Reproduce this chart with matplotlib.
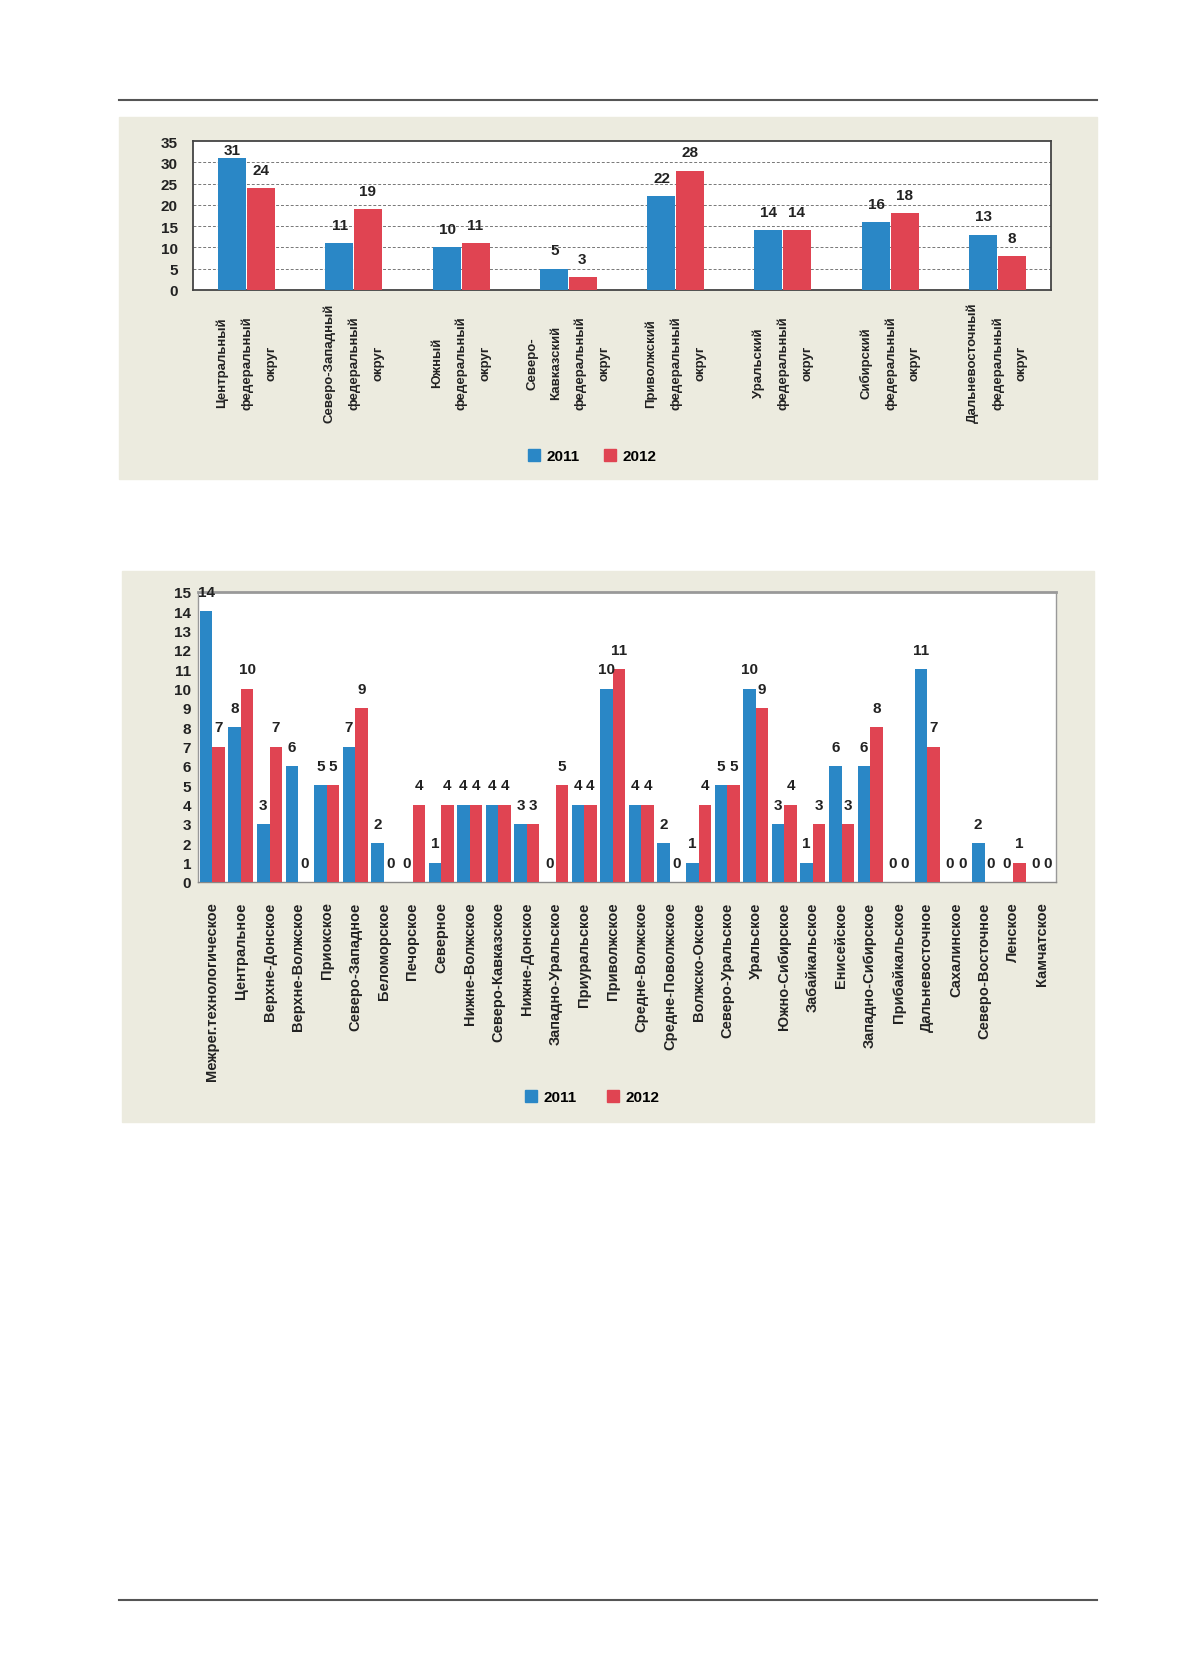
import numpy as np
import matplotlib
matplotlib.use('Agg')
import matplotlib.pyplot as plt
from matplotlib.patches import Patch, Rectangle
from matplotlib.lines import Line2D

plt.rcParams['font.family'] = ['Liberation Sans', 'DejaVu Sans']
plt.rcParams['font.weight'] = 'bold'

# Верхний график: федеральные округа
okruga = ['Центральный\nфедеральный\nокруг', 'Северо-Западный\nфедеральный\nокруг',
          'Южный\nфедеральный\nокруг', 'Северо-\nКавказский\nфедеральный\nокруг',
          'Приволжский\nфедеральный\nокруг', 'Уральский\nфедеральный\nокруг',
          'Сибирский\nфедеральный\nокруг', 'Дальневосточный\nфедеральный\nокруг']
ok_2011 = [31, 11, 10, 5, 22, 14, 16, 13]
ok_2012 = [24, 19, 11, 3, 28, 14, 18, 8]

# Нижний график: управления
upr = ['Межрег.технологическое', 'Центральное', 'Верхне-Донское', 'Верхне-Волжское',
       'Приокское', 'Северо-Западное', 'Беломорское', 'Печорское', 'Северное',
       'Нижне-Волжское', 'Северо-Кавказское', 'Нижне-Донское', 'Западно-Уральское',
       'Приуральское', 'Приволжское', 'Средне-Волжское', 'Средне-Поволжское',
       'Волжско-Окское', 'Северо-Уральское', 'Уральское', 'Южно-Сибирское',
       'Забайкальское', 'Енисейское', 'Западно-Сибирское', 'Прибайкальское',
       'Дальневосточное', 'Сахалинское', 'Северо-Восточное', 'Ленское', 'Камчатское']
upr_2011 = [14, 8, 3, 6, 5, 7, 2, 0, 1, 4, 4, 3, 0, 4, 10, 4, 2, 1, 5, 10, 3, 1, 6, 6, 0, 11, 0, 2, 0, 0]
upr_2012 = [7, 10, 7, 0, 5, 9, 0, 4, 4, 4, 4, 3, 5, 4, 11, 4, 0, 4, 5, 9, 4, 3, 3, 8, 0, 7, 0, 0, 1, 0]

blue = '#2a87c6'
red = '#e04452'
beige = '#ecebdf'
txt = '#222222'

W, H = 1179, 1681
fig = plt.figure(figsize=(W/100, H/100), dpi=100)

def fx(px):
    return px / W

def fy(py):
    return 1 - py / H

# фоновые панели и линии страницы
fig.patches.append(Rectangle((fx(119), fy(480)), fx(1097-119), (480-118)/H,
                             transform=fig.transFigure, color=beige, zorder=-5))
fig.patches.append(Rectangle((fx(122), fy(1123)), fx(1094-122), (1123-572)/H,
                             transform=fig.transFigure, color=beige, zorder=-5))
fig.lines.append(Line2D([fx(119), fx(1097)], [fy(101), fy(101)], transform=fig.transFigure,
                        color='#555555', lw=1.5))
fig.lines.append(Line2D([fx(119), fx(1097)], [fy(1601), fy(1601)], transform=fig.transFigure,
                        color='#555555', lw=1.5))

# ---- верхний график
ax = fig.add_axes([fx(193), fy(291), fx(1051-193), (291-142)/H])
x = np.arange(len(okruga))
w = 0.26
ax.bar(x - w/2 - 0.005, ok_2011, w, color=blue, zorder=3)
ax.bar(x + w/2 + 0.005, ok_2012, w, color=red, zorder=3)
for i in range(len(okruga)):
    ax.text(x[i] - w/2, min(ok_2011[i] + 4.3, 32.8), str(ok_2011[i]), ha='center', va='center',
            fontsize=11, color=txt)
    ax.text(x[i] + w/2, min(ok_2012[i] + 4.3, 32.8), str(ok_2012[i]), ha='center', va='center',
            fontsize=11, color=txt)
ax.set_xlim(-0.5, len(okruga) - 0.5)
ax.set_ylim(0, 35)
ax.set_yticks(range(0, 36, 5))
ax.set_xticks(x)
ax.set_xticklabels(okruga, rotation=90, va='center', ha='center', multialignment='center',
                   linespacing=2.3, fontsize=9.5, color=txt)
ax.tick_params(axis='x', length=0, pad=52)
ax.tick_params(axis='y', length=0, pad=11, labelsize=11, labelcolor=txt)
for v in range(5, 35, 5):
    ax.axhline(v, color='#777777', lw=0.7, ls=(0, (3, 2)), zorder=1)
for s in ax.spines.values():
    s.set_color('#444444')
    s.set_linewidth(1.3)
ax.set_facecolor('white')

fig.legend(handles=[Patch(color=blue, label='2011'), Patch(color=red, label='2012')],
           loc='center', bbox_to_anchor=(fx(592), fy(457)), ncol=2, frameon=False,
           handlelength=0.8, handleheight=0.9, handletextpad=0.4, columnspacing=1.6,
           prop={'size': 11, 'weight': 'bold'})

# ---- нижний график
ax2 = fig.add_axes([fx(198), fy(883), fx(1056-198), (883-593)/H])
x2 = np.arange(len(upr))
w2 = 0.44
ax2.bar(x2 - w2/2, upr_2011, w2, color=blue, zorder=3)
ax2.bar(x2 + w2/2, upr_2012, w2, color=red, zorder=3)
for i in range(len(upr)):
    ax2.text(x2[i] - w2/2, upr_2011[i] + 1.0, str(upr_2011[i]), ha='center', va='center',
             fontsize=11, color=txt, zorder=4)
    ax2.text(x2[i] + w2/2, upr_2012[i] + 1.0, str(upr_2012[i]), ha='center', va='center',
             fontsize=11, color=txt, zorder=4)
ax2.set_xlim(-0.5, len(upr) - 0.5)
ax2.set_ylim(0, 15)
ax2.set_yticks(range(0, 16))
ax2.set_xticks(x2)
ax2.set_xticklabels(upr, rotation=90, va='top', ha='center', fontsize=10.5, color=txt)
ax2.tick_params(axis='x', length=0, pad=14)
ax2.tick_params(axis='y', length=0, pad=5, labelsize=11, labelcolor=txt)
for s in ax2.spines.values():
    s.set_color('#999999')
    s.set_linewidth(1.0)
ax2.spines['top'].set_linewidth(2.0)
ax2.spines['bottom'].set_color('#888888')
ax2.set_facecolor('white')

fig.legend(handles=[Patch(color=blue, label='2011'), Patch(color=red, label='2012')],
           loc='center', bbox_to_anchor=(fx(592), fy(1098)), ncol=2, frameon=False,
           handlelength=0.8, handleheight=0.9, handletextpad=0.4, columnspacing=2.0,
           prop={'size': 11, 'weight': 'bold'})

fig.savefig('out.png', dpi=100, facecolor='white')
